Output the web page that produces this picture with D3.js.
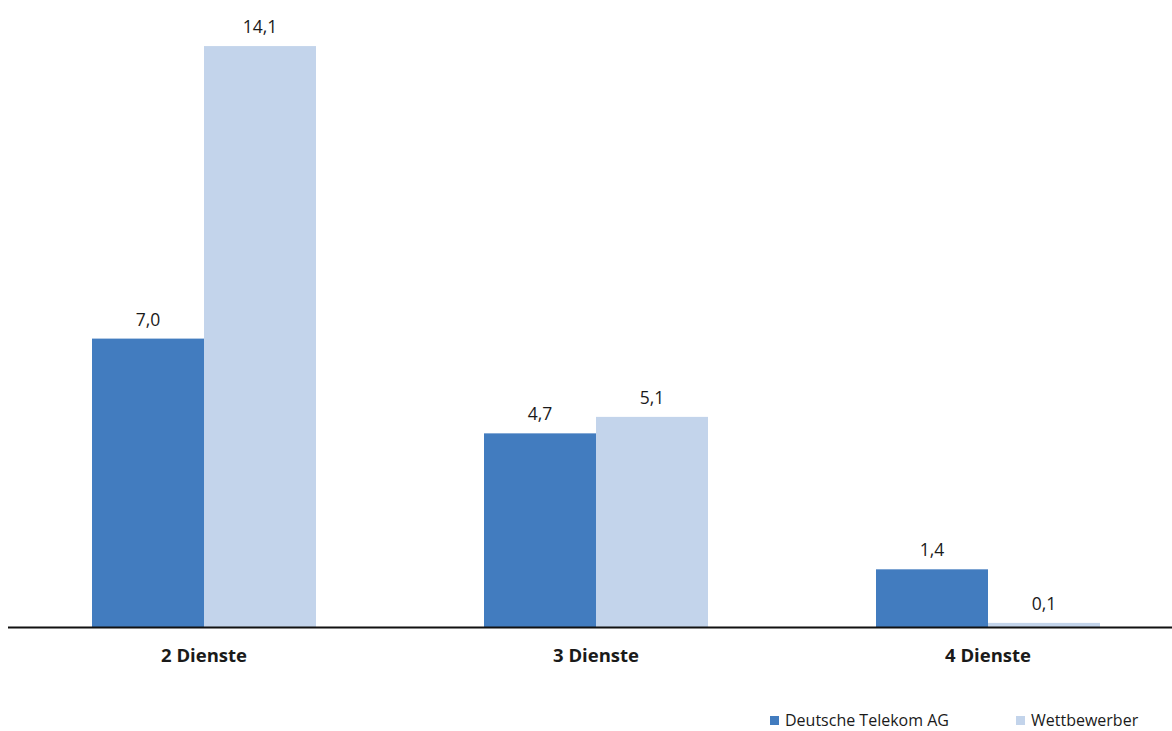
<!DOCTYPE html>
<html>
<head>
<meta charset="utf-8">
<script src="https://cdn.jsdelivr.net/npm/d3@7"></script>
<style>
  html, body { margin: 0; padding: 0; background: #fff; }
  svg { display: block; font-family: "Open Sans", Lato, sans-serif; }
</style>
</head>
<body>
<svg id="chart" width="1172" height="731"></svg>
<script>
// Bündelangebote: Anzahl der Dienste je Anbieter (Mio.)
const categories = ["2 Dienste", "3 Dienste", "4 Dienste"];
const seriesNames = ["Deutsche Telekom AG", "Wettbewerber"];
const telekomValues = [7.0, 4.7, 1.4];
const wettbewerberValues = [14.1, 5.1, 0.1];
const seriesColors = ["#427cbf", "#c3d4eb"];

const seriesValues = [telekomValues, wettbewerberValues];
const fmt = v => d3.format(".1f")(v).replace(".", ",");

const svg = d3.select("#chart");

const x0 = d3.scaleBand().domain(categories).range([8, 1184]).padding(0);
const x1 = d3.scaleBand().domain(seriesNames).range([84, 308]).padding(0);
const y = d3.scaleLinear().domain([0, 15]).range([627, 9]);

const rows = categories.map((c, i) => ({
  category: c,
  values: seriesNames.map((s, j) => ({ series: s, value: seriesValues[j][i], color: seriesColors[j] }))
}));

const groups = svg.selectAll("g.group")
  .data(rows)
  .join("g")
  .attr("class", "group")
  .attr("transform", d => `translate(${x0(d.category)},0)`);

groups.selectAll("rect")
  .data(d => d.values)
  .join("rect")
  .attr("x", d => x1(d.series))
  .attr("width", x1.bandwidth())
  .attr("y", d => y(d.value))
  .attr("height", d => y(0) - y(d.value))
  .attr("fill", d => d.color);

groups.selectAll("text.value")
  .data(d => d.values)
  .join("text")
  .attr("class", "value")
  .attr("x", d => x1(d.series) + x1.bandwidth() / 2)
  .attr("y", d => y(d.value) - 13)
  .attr("text-anchor", "middle")
  .attr("font-size", 17.5)
  .attr("fill", "#1a1a1a")
  .text(d => fmt(d.value));

// Category axis
const axis = svg.append("g")
  .attr("transform", `translate(0,${y(0)})`)
  .call(d3.axisBottom(x0).tickSize(0).tickPadding(22));
axis.select(".domain").attr("d", "M8,0.5H1172").attr("stroke", "#111").attr("stroke-width", 2.2);
axis.selectAll(".tick text")
  .attr("font-size", 18.5)
  .attr("font-weight", "bold")
  .attr("fill", "#1a1a1a")
  .attr("font-family", "'Open Sans', Lato, sans-serif");

// Legend
const legendItems = [
  { name: seriesNames[0], color: seriesColors[0], x: 770 },
  { name: seriesNames[1], color: seriesColors[1], x: 1016 }
];
const legend = svg.append("g").selectAll("g")
  .data(legendItems)
  .join("g")
  .attr("transform", d => `translate(${d.x},716)`);
legend.append("rect").attr("width", 9).attr("height", 9).attr("fill", d => d.color);
legend.append("text")
  .attr("x", 15)
  .attr("y", 10)
  .attr("font-size", 16)
  .attr("fill", "#1a1a1a")
  .text(d => d.name);
</script>
</body>
</html>
